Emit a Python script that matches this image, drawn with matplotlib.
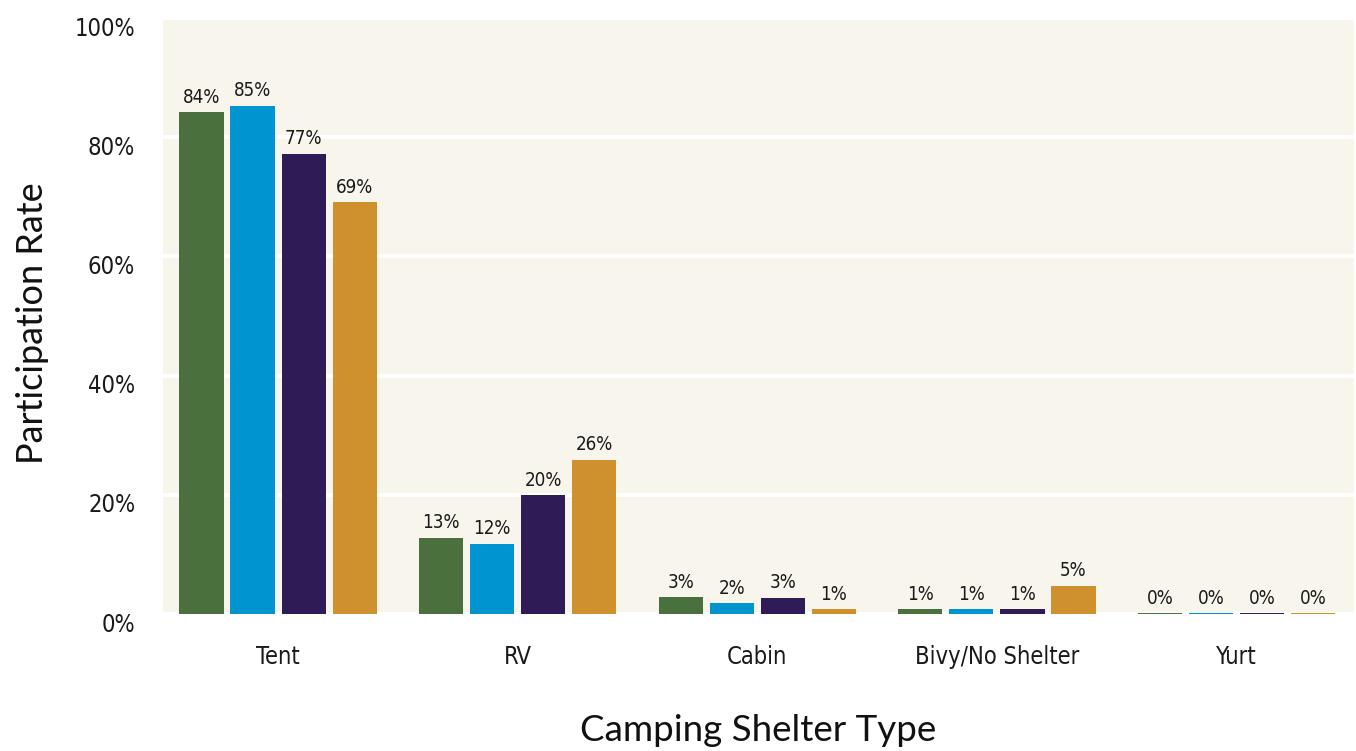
import matplotlib
matplotlib.use("Agg")
import matplotlib.pyplot as plt
import matplotlib.transforms as mtransforms
import numpy as np

categories = ["Tent", "RV", "Cabin", "Bivy/No Shelter", "Yurt"]
series_names = ["Group A", "Group B", "Group C", "Group D"]
series_a = [0.842, 0.128, 0.028, 0.008, 0.0012]
series_b = [0.853, 0.118, 0.018, 0.008, 0.0012]
series_c = [0.772, 0.199, 0.027, 0.008, 0.0012]
series_d = [0.691, 0.259, 0.008, 0.047, 0.0012]
y_ticks = [0.0, 0.2, 0.4, 0.6, 0.8, 1.0]
y_tick_labels = ["0%", "20%", "40%", "60%", "80%", "100%"]
colors = ["#4a703e", "#0094d0", "#2f1c56", "#cf902e"]

cond = dict(family="DejaVu Sans", fontstretch="condensed")
title_font = "Lato"

fig = plt.figure(figsize=(13.56, 7.51), dpi=100)
ax = fig.add_axes([163 / 1356, 1 - 614 / 751, (1354 - 163) / 1356, (614 - 18) / 751])
ax.set_facecolor("#f7f5ec")

x = np.arange(len(categories))
width = 0.184
step = 0.213
all_series = [series_a, series_b, series_c, series_d]
for i, (vals, name, col) in enumerate(zip(all_series, series_names, colors)):
    offs = (i - 1.5) * step
    bars = ax.bar(x + offs, vals, width=width, color=col, label=name, zorder=3)
    for b, v in zip(bars, vals):
        ax.annotate(f"{round(v * 100):.0f}%", (b.get_x() + b.get_width() / 2, v),
                    xytext=(0, 4), textcoords="offset points", ha="center", va="bottom",
                    fontsize=13.5, color="#1a1a1a", **cond)

ax.set_xlim(-0.48, 4.49)
ax.set_ylim(0, 1)
ax.set_yticks(y_ticks)
ax.set_yticklabels(y_tick_labels, fontsize=17, color="#1a1a1a", **cond)
ax.set_xticks(x)
ax.set_xticklabels(categories, fontsize=17, color="#1a1a1a", **cond)
ax.tick_params(axis="both", length=0)
ax.tick_params(axis="y", pad=20)
ax.tick_params(axis="x", pad=22)
# shift y tick labels slightly down
offset = mtransforms.ScaledTranslation(0, -8 / 100, fig.dpi_scale_trans)
for lab in ax.get_yticklabels():
    lab.set_transform(lab.get_transform() + offset)

ax.grid(axis="y", color="white", linewidth=2.8, zorder=1)
ax.set_axisbelow(True)
ax.axhline(0, color="white", linewidth=3, zorder=2, clip_on=False)
for s in ax.spines.values():
    s.set_visible(False)

ax.set_xlabel("Camping Shelter Type", fontsize=26.5, family=title_font, color="#111111")
ax.set_ylabel("Participation Rate", fontsize=26, family=title_font, color="#111111")
ax.xaxis.set_label_coords(0.5, -0.168)
ax.yaxis.set_label_coords(-0.096, 0.488)

fig.savefig("out.png", dpi=100, facecolor="white")
